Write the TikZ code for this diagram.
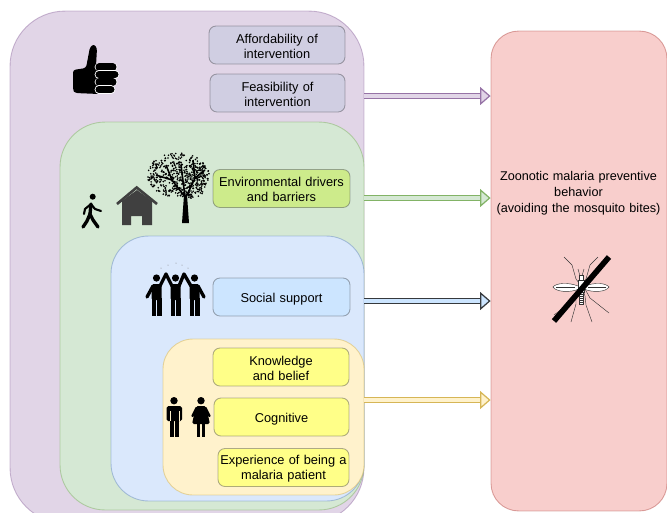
\documentclass[tikz,border=0pt]{standalone}
\usepackage{xcolor}
\usepackage{fontspec}
\setmainfont{Liberation Sans}
\definecolor{zoopurple}{HTML}{E1D5E7}
\definecolor{zoopurpleline}{HTML}{9673A6}
\definecolor{zoogreen}{HTML}{D5E8D4}
\definecolor{zoogreenline}{HTML}{82B366}
\definecolor{zooblue}{HTML}{DAE8FC}
\definecolor{zooblueline}{HTML}{6C8EBF}
\definecolor{zooyellow}{HTML}{FFF2CC}
\definecolor{zooyellowline}{HTML}{D6B656}
\definecolor{zoored}{HTML}{F8CECC}
\definecolor{zooredline}{HTML}{B85450}
\definecolor{zoolavender}{HTML}{D0CEE2}
\definecolor{zoolime}{HTML}{CDEB8B}
\definecolor{zoosky}{HTML}{CCE5FF}
\definecolor{zoolemon}{HTML}{FFFF88}
\definecolor{zoodark}{HTML}{36393D}
\definecolor{zoohouse}{HTML}{404040}
\usetikzlibrary{arrows.meta}
\tikzset{
  region/.style={rectangle, draw opacity=0.5, line width=0.5pt, inner sep=0pt},
  factor/.style={rectangle, rounded corners=0.14cm, draw=zoodark, draw opacity=0.4, line width=0.5pt, text width=2.55cm, align=center, inner sep=0pt, minimum height=0.76cm, font=\fontsize{7.3}{8.6}\selectfont, execute at begin node=\rule{0pt}{6.5pt}},
  oneline/.style={execute at begin node=\rule{0pt}{7.5pt}},
  pathway/.style={double distance=0.085cm, line width=0.7pt, -{Triangle[length=0.21cm, width=0.36cm, fill=#1]}, double=#1},
  limb/.style={black, line width=1.9pt, line cap=round, line join=round},
  thin leg/.style={black!80, line width=0.25pt}
}
\begin{document}
\begin{tikzpicture}[x=0.02cm, y=-0.02cm]
    \useasboundingbox (0,0) rectangle (667,512);
    \clip (0,0) rectangle (667,512);

    % Nested regions
    \node[region, draw=zoopurpleline, fill=zoopurple, minimum width=7.08cm, minimum height=10.24cm, rounded corners=1.1cm] (ability) at (187,267) {};
    \node[region, draw=zoogreenline, fill=zoogreen, minimum width=6.08cm, minimum height=7.76cm, rounded corners=0.9cm] (physical) at (212,316) {};
    \node[region, draw=zooblueline, fill=zooblue, minimum width=5.06cm, minimum height=5.3cm, rounded corners=0.75cm] (social) at (237.5,368.5) {};
    \node[region, draw=zooyellowline, fill=zooyellow, minimum width=4.02cm, minimum height=3.12cm, rounded corners=0.6cm] (personal) at (263.5,417) {};
    \node[region, draw=zooredline, fill=zoored, minimum width=3.52cm, minimum height=9.6cm, rounded corners=0.55cm] (behavior) at (579,271) {};

    % Factor boxes
    \node[factor, fill=zoolavender, minimum width=2.72cm] (afford) at (277,45) {Affordability of\\intervention};
    \node[factor, fill=zoolavender, minimum width=2.7cm] (feasible) at (277.5,93) {Feasibility of\\intervention};
    \node[factor, fill=zoolime, minimum width=2.74cm] (environ) at (281.5,188.5) {Environmental drivers\\and barriers};
    \node[factor, oneline, fill=zoosky, minimum width=2.74cm] (support) at (281.5,297) {Social support};
    \node[factor, fill=zoolemon, minimum width=2.72cm] (knowledge) at (281,367) {Knowledge\\and belief};
    \node[factor, oneline, fill=zoolemon, minimum width=2.7cm] (cognitive) at (281.5,417) {Cognitive};
    \node[factor, fill=zoolemon, minimum width=2.62cm] (experience) at (283.5,467.5) {Experience of being a\\malaria patient};

    % Behavior text
    \node[text width=3.5cm, align=center, font=\fontsize{7.2}{9}\selectfont] (target) at (578.5,193.5) {Zoonotic malaria preventive\\behavior\\(avoiding the mosquito bites)};

    % Arrows
    \draw[pathway=zoopurple, draw=zoopurpleline] (ability.east |- 0,96) -- (behavior.west |- 0,96);
    \draw[pathway=zoogreen, draw=zoogreenline] (ability.east |- 0,198) -- (behavior.west |- 0,198);
    \draw[pathway=zoosky, draw=zoodark] (ability.east |- 0,301) -- (behavior.west |- 0,301);
    \draw[pathway=zooyellow, draw=zooyellowline] (ability.east |- 0,400) -- (behavior.west |- 0,400);

    % Thumb
    \fill[black, rounded corners=1.5pt] (73,70) -- (86,68) -- (90,47) -- (94,44) -- (97,48) -- (96,66) -- (99,66) -- (99,94) -- (75,93) -- (73,90) -- cycle;
    \foreach \fy/\fx in {67/116, 74.5/118, 82/116, 89.5/114}
      \draw[black, line width=4pt, line cap=round, preaction={draw=white, line width=5pt, line cap=round}] (99,\fy) -- (\fx-3,\fy);

    % Walker
    \fill[black] (92.7,196.7) circle (3);
    \draw[limb] (91,204) -- (90,214) -- (93,220) -- (98,227);
    \draw[limb] (90,214) -- (87,221) -- (83,227);
    \draw[limb, line width=1.2pt] (91,204) -- (85,209) -- (84,214);
    \draw[limb, line width=1.2pt] (91,204) -- (95,209) -- (101,211);

    % House
    \fill[zoohouse] (122,201) -- (137,190) -- (152,201) -- (152,225) -- (142,225) -- (142,216) -- (131,216) -- (131,225) -- (122,225) -- cycle;
    \draw[zoohouse, line width=1.5pt] (117,204) -- (136.7,187.5) -- (157,204);

    % Tree
    \fill[black] (182,223) -- (184,195) -- (187,195) -- (189,223) -- cycle;
    \draw[black, line width=0.9pt] (185,197) -- (172,180) -- (156,175)  (172,180) -- (166,165)  (185,197) -- (181,165)  (186,197) -- (195,178) -- (205,170)  (195,178) -- (193,160);
    \pgfmathsetseed{41}
    \foreach \i in {1,...,420}{
      \pgfmathsetmacro{\leafang}{rnd*360}
      \pgfmathsetmacro{\leafrad}{sqrt(rnd)}
      \fill[black] ({178+31*\leafrad*cos(\leafang)},{175+22*\leafrad*sin(\leafang)}) circle (0.9);
    }
    \foreach \i in {1,...,110}{
      \pgfmathsetmacro{\leafang}{rnd*360}
      \pgfmathsetmacro{\leafrad}{sqrt(rnd)}
      \fill[black] ({193+13*\leafrad*cos(\leafang)},{182+17*\leafrad*sin(\leafang)}) circle (0.9);
    }

    % Group of three
    \foreach \hx in {156.5,175.5,194.5}{
      \fill[black] (\hx,278) circle (3.6);
      \fill[black, rounded corners=1pt] (\hx-5,284) rectangle (\hx+5,300);
      \fill[black] (\hx-5,298) rectangle (\hx-0.7,316);
      \fill[black] (\hx+0.7,298) rectangle (\hx+5,316);
    }
    \draw[limb] (153,286) -- (147,297);
    \draw[limb] (198,286) -- (204,297);
    \draw[limb] (160,286) -- (166,274) -- (172,286);
    \draw[limb] (179,286) -- (184,274) -- (191,286);
    \foreach \dx/\dy in {161/268, 168/265, 176/263, 182/265, 188/268}
      \fill[gray] (\dx,\dy) circle (0.5);

    % Man and woman
    \fill[black] (174,400.7) circle (3.7);
    \fill[black, rounded corners=1pt] (166.5,406) rectangle (182,421);
    \fill[black] (169.5,415) rectangle (173.5,437);
    \fill[black] (174.7,415) rectangle (179,437);
    \draw[zooyellow, line width=0.3pt] (169.8,411) -- (169.8,421)  (179.2,411) -- (179.2,421);
    \fill[black] (201,400.7) circle (3.7);
    \fill[black, rounded corners=1pt] (196,406) -- (206,406) -- (210,424) -- (192,424) -- cycle;
    \draw[limb, line width=1.3pt] (196.5,408) -- (192.5,416);
    \draw[limb, line width=1.3pt] (205.5,408) -- (209.5,416);
    \fill[black] (197,423) rectangle (200.3,437);
    \fill[black] (201.7,423) rectangle (205,437);

    % Mosquito
    \draw[thin leg, fill=white] (578,286) .. controls (568,282) and (556,283) .. (553,287) .. controls (556,292) and (570,293) .. (579,289);
    \draw[thin leg, fill=white] (585,286) .. controls (595,282) and (606,283) .. (609,287) .. controls (606,292) and (593,293) .. (584,289);
    \draw[thin leg] (556,287) -- (575,287)  (606,287) -- (588,287);
    \draw[thin leg] (564,257) -- (572,265) -- (576,279) -- (579,283);
    \draw[thin leg] (598,257) -- (590,265) -- (586,279) -- (583,283);
    \draw[thin leg] (571,322) -- (576,304) -- (576,294) -- (579,290);
    \draw[thin leg] (592,322) -- (586,305) -- (585,296) -- (583,290);
    \draw[thin leg] (554,315) -- (570,303) -- (578,291);
    \draw[thin leg] (609,313) -- (590,298) -- (585,289);
    \draw[thin leg] (580,276) -- (578,269)  (582,276) -- (584,269);
    \draw[thin leg, fill=white] (579.5,275) rectangle (583.5,280);
    \draw[thin leg, fill=white] (578,280) rectangle (584,292);
    \draw[thin leg, fill=white] (579,292) rectangle (583.5,304);
    \foreach \ry in {294,296,...,302}
      \draw[thin leg] (579,\ry) -- (583.5,\ry);
    \draw[black, line width=3.2pt] (554,321) -- (609,257);
\end{tikzpicture}
\end{document}
